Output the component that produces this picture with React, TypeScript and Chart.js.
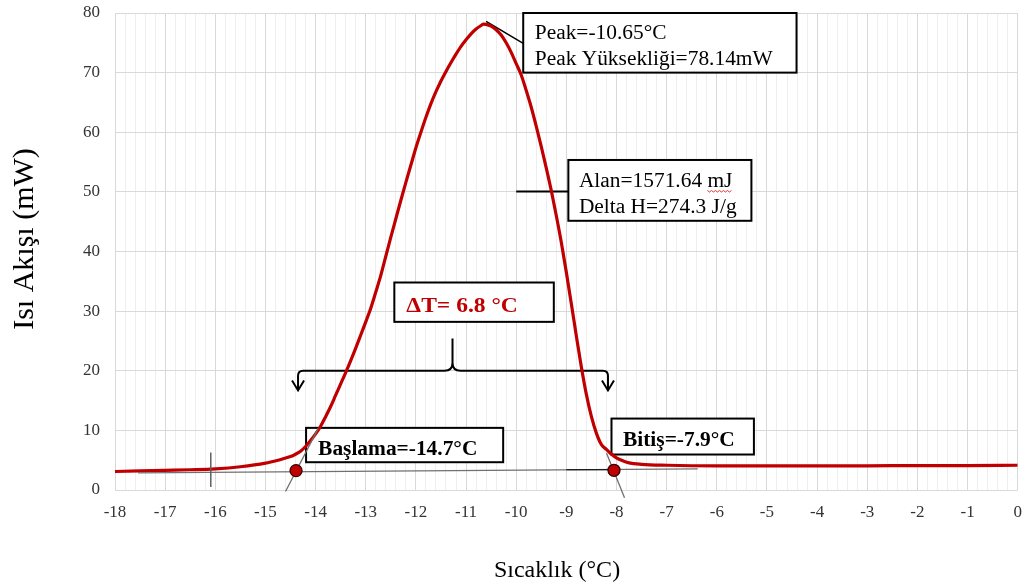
import React, { useEffect, useRef } from 'react';
import { Chart, registerables } from 'chart.js';

Chart.register(...registerables);

// ---------- data ----------
const temperatures = [
  -18, -17.5, -17, -16.5, -16, -15.5, -15, -14.75, -14.5, -14.4, -14.3, -14.2, -14.1, -14.0,
  -13.9, -13.8, -13.7, -13.6, -13.5, -13.4, -13.3, -13.2, -13.1, -13.0, -12.9, -12.8, -12.7,
  -12.6, -12.5, -12.4, -12.3, -12.2, -12.1, -12.0, -11.9, -11.8, -11.7, -11.6, -11.5, -11.4,
  -11.3, -11.2, -11.1, -11.0, -10.9, -10.8, -10.7, -10.65, -10.6, -10.5, -10.4, -10.3, -10.2,
  -10.1, -10.0, -9.9, -9.8, -9.7, -9.6, -9.5, -9.4, -9.3, -9.2, -9.1, -9.0, -8.9, -8.8, -8.7,
  -8.6, -8.5, -8.4, -8.3, -8.2, -8.1, -8.0, -7.9, -7.75, -7.5, -7, -6, -5, -4, -3, -2, -1, 0,
];
const heatFlow = [
  3.1, 3.2, 3.3, 3.4, 3.55, 3.9, 4.5, 5.0, 5.6, 6.0, 6.5, 7.3, 8.3, 9.4,
  10.7, 12.3, 14.0, 15.9, 17.8, 19.7, 21.7, 23.8, 26.0, 28.2, 30.5, 33.2, 36.0,
  39.2, 42.4, 45.5, 48.6, 51.6, 54.5, 57.4, 60.0, 62.5, 64.8, 66.8, 68.6, 70.2,
  71.7, 73.1, 74.4, 75.5, 76.5, 77.3, 77.9, 78.14, 78.1, 77.8, 77.2, 76.3, 75.0,
  73.4, 71.5, 69.6, 67.0, 64.2, 61.0, 57.6, 54.0, 50.2, 46.0, 41.5, 36.5, 31.2, 25.8, 20.6,
  16.0, 12.3, 9.5, 7.6, 6.8, 6.0, 5.4, 5.0, 4.55, 4.3, 4.15, 4.05, 4.05, 4.05, 4.05, 4.1, 4.1, 4.15,
];
const markerTemps = [-14.39, -8.05];
const markerFlows = [3.25, 3.3];

const xMin = -18;
const xMax = 0;
const xStep = 1;
const xMinorStep = 0.2;
const yMin = 0;
const yMax = 80;
const yStep = 10;

const xTitle = 'Sıcaklık (°C)';
const yTitle = 'Isı Akışı (mW)';
const peakLines = ['Peak=-10.65°C', 'Peak Yüksekliği=78.14mW'];
const areaLines = ['Alan=1571.64 mJ', 'Delta H=274.3 J/g'];
const deltaLabel = 'ΔT= 6.8 °C';
const onsetLabel = 'Başlama=-14.7°C';
const endLabel = 'Bitiş=-7.9°C';

const SERIF = "'Liberation Serif', 'Times New Roman', serif";
const RED = '#C00000';
const TEXT_STRETCH = 1.07;

const dscPlugin = {
  id: 'dscAnnotations',
  beforeDatasetsDraw(chart: any) {
    const { ctx } = chart;
    const xs = chart.scales.x;
    const ys = chart.scales.y;
    const px = (v: number) => xs.getPixelForValue(v);
    const py = (v: number) => ys.getPixelForValue(v);

    const box = (x1: number, y1: number, x2: number, y2: number) => {
      const l = px(x1), t = py(y1), r = px(x2), b = py(y2);
      ctx.save();
      ctx.fillStyle = '#ffffff';
      ctx.fillRect(l, t, r - l, b - t);
      ctx.strokeStyle = '#000000';
      ctx.lineWidth = 2;
      ctx.strokeRect(l, t, r - l, b - t);
      ctx.restore();
    };
    const text = (s: string, xv: number, yv: number, font: string, color: string) => {
      ctx.save();
      ctx.font = font;
      ctx.fillStyle = color;
      ctx.textBaseline = 'alphabetic';
      ctx.textAlign = 'left';
      ctx.translate(px(xv), py(yv));
      ctx.scale(TEXT_STRETCH, 1);
      ctx.fillText(s, 0, 0);
      ctx.restore();
    };
    const line = (x1: number, y1: number, x2: number, y2: number, color: string, w: number) => {
      ctx.save();
      ctx.strokeStyle = color;
      ctx.lineWidth = w;
      ctx.beginPath();
      ctx.moveTo(px(x1), py(y1));
      ctx.lineTo(px(x2), py(y2));
      ctx.stroke();
      ctx.restore();
    };

    const normal = `20px ${SERIF}`;
    const bold = `bold 20px ${SERIF}`;

    // peak callout
    line(-10.6, 78.6, -9.86, 74.9, '#000', 1.5);
    box(-9.86, 80, -4.41, 70);
    text(peakLines[0], -9.63, 75.6, normal, '#000');
    text(peakLines[1], -9.63, 71.3, normal, '#000');

    // area callout
    line(-10.0, 50.05, -8.96, 50.05, '#000', 2);
    box(-8.96, 55.35, -5.31, 45.15);
    text(areaLines[0], -8.75, 50.9, normal, '#000');
    text(areaLines[1], -8.75, 46.4, normal, '#000');
    // spell-check squiggle under "mJ"
    ctx.save();
    ctx.font = normal;
    const pre = ctx.measureText('Alan=1571.64 ').width * TEXT_STRETCH;
    const word = ctx.measureText('mJ').width * TEXT_STRETCH;
    const sx = px(-8.75) + pre;
    const sy = py(50.9) + 4;
    ctx.strokeStyle = '#e03030';
    ctx.lineWidth = 1;
    ctx.beginPath();
    for (let i = 0; i <= word; i += 2) {
      const yy = sy + ((i / 2) % 2 === 0 ? 0 : 1.5);
      if (i === 0) ctx.moveTo(sx + i, yy);
      else ctx.lineTo(sx + i, yy);
    }
    ctx.stroke();
    ctx.restore();

    // delta T label
    box(-12.43, 34.8, -9.25, 28.2);
    text(deltaLabel, -12.19, 29.85, `bold 22px ${SERIF}`, RED);

    // bracket with arrows
    const l = px(-14.35), r = px(-8.17), c = px(-11.27);
    const lvl = py(20), tip = py(16.7), top = py(25.4);
    const rad = 5;
    ctx.save();
    ctx.strokeStyle = '#000';
    ctx.lineWidth = 2;
    ctx.beginPath();
    ctx.moveTo(l, tip);
    ctx.lineTo(l, lvl + rad);
    ctx.quadraticCurveTo(l, lvl, l + rad, lvl);
    ctx.lineTo(c - 8, lvl);
    ctx.quadraticCurveTo(c, lvl, c, lvl - 8);
    ctx.lineTo(c, top);
    ctx.moveTo(c, lvl - 8);
    ctx.quadraticCurveTo(c, lvl, c + 8, lvl);
    ctx.lineTo(r - rad, lvl);
    ctx.quadraticCurveTo(r, lvl, r, lvl + rad);
    ctx.lineTo(r, tip);
    ctx.moveTo(l - 6, tip - 10);
    ctx.lineTo(l, tip);
    ctx.lineTo(l + 6, tip - 10);
    ctx.moveTo(r - 6, tip - 10);
    ctx.lineTo(r, tip);
    ctx.lineTo(r + 6, tip - 10);
    ctx.stroke();
    ctx.restore();

    // onset / end labels
    box(-14.19, 10.42, -10.26, 4.66);
    text(onsetLabel, -13.95, 5.95, bold, '#000');
    box(-8.1, 11.98, -5.26, 5.95);
    text(endLabel, -7.87, 7.45, bold, '#000');
  },
  afterDatasetDraw(chart: any, args: any) {
    if (args.index !== 0) return;
    const { ctx } = chart;
    const xs = chart.scales.x;
    const ys = chart.scales.y;
    const px = (v: number) => xs.getPixelForValue(v);
    const py = (v: number) => ys.getPixelForValue(v);
    const line = (x1: number, y1: number, x2: number, y2: number, color: string, w: number) => {
      ctx.save();
      ctx.strokeStyle = color;
      ctx.lineWidth = w;
      ctx.beginPath();
      ctx.moveTo(px(x1), py(y1));
      ctx.lineTo(px(x2), py(y2));
      ctx.stroke();
      ctx.restore();
    };
    // baselines
    line(-17.54, 2.88, -6.38, 3.55, '#707070', 1.2);
    line(-9.0, 3.4, -8.05, 3.4, '#000000', 1.2);
    // tangent lines
    line(-14.6, -0.25, -13.95, 10.3, '#707070', 1.3);
    line(-8.2, 6.2, -7.84, -1.3, '#707070', 1.3);
    // vertical tick at -16
    line(-16.09, 0.5, -16.09, 6.3, '#606060', 1.5);
  },
  afterDraw(chart: any) {
    const { ctx } = chart;
    ctx.save();
    ctx.fillStyle = '#000';
    ctx.textAlign = 'center';
    ctx.textBaseline = 'middle';
    ctx.font = `24px ${SERIF}`;
    ctx.fillText(xTitle, 557, 571);
    ctx.translate(25, 239);
    ctx.rotate(-Math.PI / 2);
    ctx.font = `30px ${SERIF}`;
    ctx.fillText(yTitle, 0, 0);
    ctx.restore();
  },
};

const isWhole = (v: number) => Math.abs(v - Math.round(v)) < 1e-6;

export default function App() {
  const canvasRef = useRef<HTMLCanvasElement | null>(null);

  useEffect(() => {
    if (!canvasRef.current) return;
    const curve = temperatures.map((t, i) => ({ x: t, y: heatFlow[i] }));
    const markers = markerTemps.map((t, i) => ({ x: t, y: markerFlows[i] }));

    const chart = new Chart(canvasRef.current, {
      type: 'line',
      data: {
        datasets: [
          {
            label: 'Isı Akışı',
            data: curve,
            borderColor: RED,
            borderWidth: 3.2,
            pointRadius: 0,
            cubicInterpolationMode: 'monotone',
            fill: false,
            order: 2,
          },
          {
            label: 'Başlama / Bitiş',
            data: markers,
            showLine: false,
            pointRadius: 6,
            pointBackgroundColor: RED,
            pointBorderColor: '#3a0000',
            pointBorderWidth: 1.3,
            order: 1,
          },
        ],
      },
      options: {
        responsive: false,
        animation: false,
        layout: { padding: { left: 0, right: 7, top: 13, bottom: 0 } },
        plugins: { legend: { display: false }, tooltip: { enabled: false } },
        scales: {
          x: {
            type: 'linear',
            min: xMin,
            max: xMax,
            afterFit: (scale: any) => {
              scale.height = 98;
              scale.paddingLeft = 0;
              scale.paddingRight = 0;
            },
            border: { display: false },
            grid: {
              drawTicks: false,
              color: (c: any) => (c.tick && isWhole(c.tick.value) ? '#d9d9d9' : '#eeeeee'),
              lineWidth: 1,
            },
            ticks: {
              stepSize: xMinorStep,
              autoSkip: false,
              maxRotation: 0,
              padding: 12,
              color: '#333333',
              font: { family: SERIF, size: 17 },
              callback: (v: any) => (isWhole(Number(v)) && Math.round(Number(v)) % xStep === 0 ? String(Math.round(Number(v))) : ''),
            },
          },
          y: {
            type: 'linear',
            min: yMin,
            max: yMax,
            afterFit: (scale: any) => {
              scale.width = 115;
              scale.paddingTop = 0;
              scale.paddingBottom = 0;
            },
            border: { display: false },
            grid: { drawTicks: false, color: '#d9d9d9', lineWidth: 1 },
            ticks: {
              stepSize: yStep,
              padding: 15,
              color: '#333333',
              font: { family: SERIF, size: 17 },
            },
          },
        },
      },
      plugins: [dscPlugin],
    });
    return () => chart.destroy();
  }, []);

  return (
    <div style={{ position: 'absolute', left: 0, top: 0, width: 1025, height: 588, background: '#ffffff' }}>
      <canvas ref={canvasRef} width={1025} height={588} />
    </div>
  );
}
